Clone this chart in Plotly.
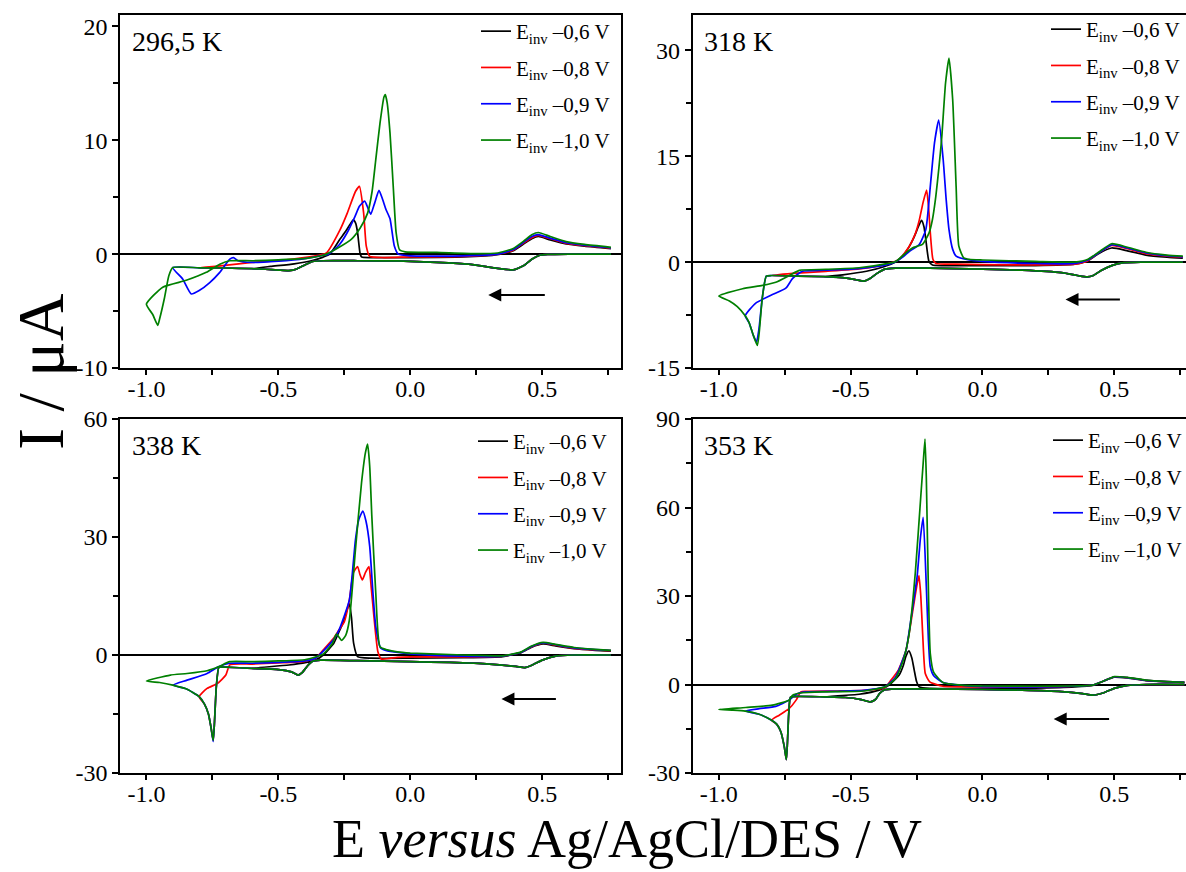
import plotly.graph_objects as go

FONT = "Liberation Serif"

# ---------------- 296,5 K ----------------
E_A_cat = [0.76, 0.6, 0.52, 0.49, 0.46, 0.43, 0.39, 0.33, 0.22, 0.1, -0.05, -0.2, -0.33, -0.37, -0.40, -0.43, -0.46, -0.50, -0.55, -0.6]
I_A_cat = [0.0, 0.0, -0.03, -0.1, -0.45, -1.0, -1.38, -1.25, -0.88, -0.72, -0.6, -0.58, -0.58, -0.65, -0.95, -1.3, -1.45, -1.4, -1.33, -1.28]
E_A_tail_r = [-0.7, -0.8]
I_A_tail_r = [-1.22, -1.2]
E_A_tail_b = [-0.7, -0.8, -0.9]
I_A_tail_b = [-1.22, -1.2, -1.18]
E_A_tail_g = [-0.7, -0.8, -0.9, -0.915, -0.932, -0.95, -0.957, -0.976, -1.0]
I_A_tail_g = [-1.22, -1.2, -1.18, -1.9, -3.9, -5.7, -6.25, -5.3, -4.4]
E_A_an_k = [-0.53, -0.44, -0.375, -0.33, -0.305, -0.267, -0.245, -0.229, -0.216, -0.207, -0.2, -0.19, -0.184, -0.15, 0.0, 0.2, 0.33, 0.39, 0.43, 0.46, 0.485, 0.53, 0.59, 0.66, 0.76]
I_A_an_k = [-1.08, -0.85, -0.58, -0.26, 0.0, 1.3, 2.0, 2.6, 3.0, 2.7, 1.9, 0.0, -0.26, -0.3, -0.3, -0.25, -0.05, 0.3, 0.9, 1.35, 1.55, 1.25, 0.9, 0.7, 0.48]
E_A_an_r = [-0.72, -0.6, -0.47, -0.37, -0.318, -0.267, -0.239, -0.208, -0.193, -0.177, -0.167, -0.154, -0.1, 0.0, 0.2, 0.33, 0.39, 0.43, 0.46, 0.485, 0.53, 0.59, 0.66, 0.76]
I_A_an_r = [-1.03, -0.73, -0.5, -0.2, 0.1, 2.1, 3.6, 5.5, 5.95, 3.6, 0.7, -0.2, -0.3, -0.25, -0.2, 0.0, 0.35, 1.0, 1.45, 1.65, 1.35, 0.95, 0.75, 0.52]
E_A_an_b = [-0.862, -0.83, -0.8, -0.76, -0.722, -0.684, -0.67, -0.653, -0.6, -0.5, -0.4, -0.33, -0.31, -0.27, -0.239, -0.21, -0.193, -0.173, -0.16, -0.15, -0.135, -0.119, -0.105, -0.092, -0.077, -0.061, -0.046, 0.0, 0.2, 0.33, 0.39, 0.43, 0.46, 0.485, 0.53, 0.59, 0.66, 0.76]
I_A_an_b = [-2.2, -3.5, -3.2, -2.5, -1.6, -0.44, -0.3, -0.58, -0.73, -0.62, -0.4, -0.1, 0.0, 0.8, 1.9, 3.3, 4.2, 4.66, 4.0, 3.5, 4.5, 5.6, 4.8, 3.9, 3.1, 0.73, 0.0, -0.15, -0.15, 0.0, 0.4, 1.05, 1.55, 1.72, 1.4, 1.0, 0.78, 0.55]
E_A_an_g = [-0.938, -0.849, -0.773, -0.722, -0.684, -0.596, -0.5, -0.394, -0.33, -0.318, -0.27, -0.224, -0.19, -0.162, -0.145, -0.131, -0.115, -0.1, -0.095, -0.088, -0.077, -0.065, -0.054, -0.041, -0.02, 0.1, 0.25, 0.33, 0.39, 0.43, 0.46, 0.485, 0.53, 0.59, 0.66, 0.76]
I_A_an_g = [-2.9, -2.3, -1.6, -0.88, -0.58, -0.58, -0.5, -0.38, -0.1, 0.0, 0.6, 1.3, 2.3, 3.6, 5.5, 8.3, 11.5, 13.8, 14.0, 13.3, 10.6, 6.0, 1.9, 0.38, 0.2, 0.15, 0.05, 0.1, 0.5, 1.15, 1.7, 1.9, 1.55, 1.1, 0.85, 0.6]

# ---------------- 318 K ----------------
E_B_cat = [0.76, 0.6, 0.53, 0.49, 0.45, 0.42, 0.397, 0.36, 0.3, 0.15, 0.0, -0.2, -0.33, -0.37, -0.40, -0.425, -0.449, -0.48, -0.53, -0.6]
I_B_cat = [0.0, 0.0, -0.1, -0.5, -1.2, -1.9, -2.1, -1.9, -1.5, -1.15, -1.0, -0.85, -0.85, -1.0, -1.6, -2.3, -2.7, -2.5, -2.2, -2.07]
E_B_tail_r = [-0.7, -0.8]
I_B_tail_r = [-1.98, -1.9]
E_B_tail_b = [-0.7, -0.8, -0.82, -0.835, -0.848, -0.857, -0.87, -0.885, -0.9]
I_B_tail_b = [-1.98, -1.9, -2.0, -5.0, -9.5, -11.3, -10.3, -8.6, -7.6]
E_B_tail_g = [-0.7, -0.8, -0.82, -0.835, -0.847, -0.854, -0.87, -0.885, -0.9, -0.93, -0.96, -1.0]
I_B_tail_g = [-1.98, -1.9, -2.0, -5.0, -10.0, -11.8, -10.3, -8.6, -7.6, -6.3, -5.5, -4.8]
E_B_an_k = [-0.53, -0.44, -0.377, -0.33, -0.3, -0.278, -0.26, -0.24, -0.231, -0.222, -0.215, -0.203, -0.19, -0.15, 0.0, 0.2, 0.35, 0.40, 0.44, 0.49, 0.55, 0.62, 0.7, 0.76]
I_B_an_k = [-1.8, -1.3, -0.7, 0.0, 1.0, 2.2, 3.5, 5.3, 5.9, 5.0, 3.2, 0.1, -0.4, -0.5, -0.5, -0.5, -0.3, 0.2, 1.2, 2.0, 1.6, 1.0, 0.7, 0.55]
E_B_an_r = [-0.72, -0.594, -0.468, -0.367, -0.316, -0.278, -0.255, -0.24, -0.225, -0.212, -0.205, -0.198, -0.188, -0.177, -0.1, 0.0, 0.2, 0.35, 0.40, 0.44, 0.49, 0.55, 0.62, 0.7, 0.76]
I_B_an_r = [-1.6, -1.3, -0.96, -0.33, 0.4, 2.2, 4.0, 5.9, 8.5, 10.2, 8.0, 4.2, 0.4, -0.2, -0.3, -0.35, -0.4, -0.3, 0.2, 1.3, 2.35, 1.9, 1.2, 0.85, 0.7]
E_B_an_b = [-0.86, -0.797, -0.746, -0.72, -0.683, -0.6, -0.5, -0.4, -0.342, -0.3, -0.278, -0.24, -0.215, -0.198, -0.182, -0.166, -0.149, -0.138, -0.127, -0.113, -0.1, -0.05, 0.0, 0.2, 0.35, 0.40, 0.44, 0.49, 0.55, 0.62, 0.7, 0.76]
I_B_an_b = [-5.8, -4.6, -3.7, -2.3, -1.3, -1.15, -1.0, -0.6, -0.14, 0.8, 1.5, 2.5, 4.6, 10.7, 16.9, 20.1, 14.5, 9.0, 4.6, 1.8, 0.85, 0.3, 0.1, -0.2, -0.2, 0.3, 1.3, 2.45, 2.0, 1.3, 0.9, 0.75]
E_B_an_g = [-0.91, -0.835, -0.784, -0.733, -0.695, -0.594, -0.468, -0.367, -0.329, -0.29, -0.266, -0.228, -0.203, -0.19, -0.177, -0.165, -0.155, -0.14, -0.127, -0.113, -0.1, -0.09, -0.072, -0.05, 0.0, 0.2, 0.35, 0.40, 0.44, 0.49, 0.55, 0.62, 0.7, 0.76]
I_B_an_g = [-3.77, -3.3, -2.85, -1.9, -1.17, -1.03, -0.8, -0.26, 0.1, 1.3, 2.0, 2.5, 4.1, 6.0, 9.3, 13.5, 17.4, 25.4, 28.9, 23.0, 10.7, 2.3, 0.65, 0.4, 0.3, 0.1, 0.0, 0.4, 1.4, 2.6, 2.1, 1.4, 1.0, 0.85]

# ---------------- 338 K ----------------
E_C_cat = [0.76, 0.62, 0.55, 0.5, 0.46, 0.434, 0.4, 0.3, 0.15, 0.0, -0.2, -0.34, -0.37, -0.39, -0.41, -0.425, -0.45, -0.5, -0.6]
I_C_cat = [0.0, 0.0, -0.3, -1.3, -2.6, -3.2, -2.9, -2.3, -1.9, -1.7, -1.45, -1.3, -1.6, -2.8, -4.5, -5.1, -4.3, -3.7, -3.4]
E_C_tail_r = [-0.7, -0.725, -0.735, -0.742, -0.747, -0.755, -0.765, -0.78, -0.8]
I_C_tail_r = [-3.1, -3.1, -8.0, -17.0, -21.7, -18.5, -15.0, -12.5, -10.6]
E_C_tail_b = [-0.7, -0.725, -0.735, -0.742, -0.747, -0.755, -0.765, -0.78, -0.8, -0.85, -0.9]
I_C_tail_b = [-3.1, -3.1, -8.0, -17.0, -22.0, -18.5, -15.0, -12.5, -10.6, -8.6, -7.65]
E_C_tail_g = [-0.7, -0.725, -0.735, -0.742, -0.747, -0.755, -0.765, -0.78, -0.8, -0.85, -0.9, -0.95, -1.0]
I_C_tail_g = [-3.1, -3.1, -8.0, -17.0, -21.7, -18.5, -15.0, -12.5, -10.6, -8.6, -7.65, -7.0, -6.6]
E_C_an_k = [-0.46, -0.36, -0.33, -0.29, -0.267, -0.25, -0.24, -0.231, -0.223, -0.215, -0.2, -0.15, 0.0, 0.2, 0.35, 0.42, 0.46, 0.503, 0.55, 0.62, 0.7, 0.76]
I_C_an_k = [-2.55, -1.3, 0.0, 3.0, 6.4, 9.0, 11.5, 13.0, 9.5, 3.0, -0.4, -0.8, -0.8, -0.7, -0.4, 0.6, 2.0, 2.8, 2.3, 1.6, 1.2, 1.0]
E_C_an_r = [-0.77, -0.73, -0.699, -0.684, -0.6, -0.5, -0.4, -0.36, -0.33, -0.29, -0.27, -0.25, -0.231, -0.216, -0.2, -0.191, -0.182, -0.17, -0.157, -0.148, -0.138, -0.123, -0.11, -0.05, 0.0, 0.2, 0.35, 0.42, 0.46, 0.503, 0.55, 0.62, 0.7, 0.76]
I_C_an_r = [-8.5, -7.2, -5.1, -2.5, -2.3, -2.0, -1.6, -0.85, 1.3, 4.3, 6.4, 8.5, 14.0, 20.9, 22.5, 20.5, 19.1, 21.0, 22.5, 17.0, 9.8, 0.85, -1.0, -0.6, -0.5, -0.5, -0.3, 0.7, 2.1, 3.0, 2.5, 1.7, 1.3, 1.1]
E_C_an_b = [-0.846, -0.77, -0.727, -0.684, -0.6, -0.5, -0.4, -0.36, -0.33, -0.29, -0.27, -0.231, -0.208, -0.195, -0.18, -0.168, -0.154, -0.142, -0.131, -0.112, -0.09, -0.069, 0.0, 0.2, 0.35, 0.42, 0.46, 0.503, 0.55, 0.62, 0.7, 0.76]
I_C_an_b = [-6.4, -4.7, -3.0, -2.1, -2.1, -1.9, -1.5, -0.8, 1.0, 4.0, 6.4, 14.0, 29.3, 34.5, 36.6, 34.0, 27.6, 16.0, 7.2, 1.7, 1.1, 0.85, 0.3, -0.3, -0.3, 0.7, 2.2, 3.1, 2.6, 1.8, 1.35, 1.15]
E_C_an_g = [-0.909, -0.846, -0.77, -0.727, -0.684, -0.6, -0.5, -0.4, -0.36, -0.33, -0.295, -0.28, -0.26, -0.245, -0.231, -0.208, -0.185, -0.17, -0.162, -0.154, -0.146, -0.131, -0.115, -0.087, -0.05, 0.0, 0.2, 0.35, 0.42, 0.46, 0.503, 0.55, 0.62, 0.7, 0.76]
I_C_an_g = [-5.1, -4.7, -4.0, -3.0, -1.7, -1.7, -1.5, -1.2, -0.5, 0.26, 3.0, 5.3, 3.7, 5.0, 8.9, 26.8, 43.8, 51.5, 53.6, 48.0, 35.3, 15.7, 2.1, 1.3, 0.8, 0.5, 0.0, -0.2, 0.8, 2.3, 3.2, 2.7, 1.9, 1.45, 1.2]

# ---------------- 353 K ----------------
E_D_cat = [0.766, 0.62, 0.55, 0.5, 0.46, 0.418, 0.38, 0.3, 0.15, 0.0, -0.2, -0.33, -0.37, -0.39, -0.405, -0.425, -0.46, -0.52, -0.6]
I_D_cat = [0.0, 0.0, -0.3, -1.3, -2.8, -3.6, -3.1, -2.4, -1.9, -1.7, -1.5, -1.5, -1.8, -3.0, -5.0, -5.9, -5.1, -4.4, -4.2]
E_D_tail_r = [-0.7, -0.728, -0.735, -0.74, -0.744, -0.752, -0.765, -0.78, -0.8]
I_D_tail_r = [-4.0, -4.3, -10.0, -20.0, -25.5, -21.0, -16.0, -13.5, -12.1]
E_D_tail_b = [-0.7, -0.728, -0.735, -0.74, -0.744, -0.752, -0.765, -0.78, -0.8, -0.85, -0.9]
I_D_tail_b = [-4.0, -4.3, -10.0, -20.0, -25.5, -21.0, -16.0, -13.5, -12.1, -10.0, -9.0]
E_D_tail_g = [-0.7, -0.728, -0.735, -0.74, -0.744, -0.752, -0.765, -0.78, -0.8, -0.85, -0.9, -0.95, -1.0]
I_D_tail_g = [-4.0, -4.3, -10.0, -20.0, -25.5, -21.0, -16.0, -13.5, -12.1, -10.0, -9.0, -8.7, -8.5]
E_D_an_k = [-0.468, -0.392, -0.354, -0.316, -0.3, -0.291, -0.279, -0.268, -0.259, -0.25, -0.24, -0.2, 0.0, 0.2, 0.35, 0.418, 0.46, 0.5, 0.55, 0.62, 0.7, 0.766]
I_D_an_k = [-3.3, -1.9, -0.2, 3.2, 6.5, 9.4, 11.4, 9.0, 4.9, 1.0, -0.8, -1.3, -1.3, -1.2, -0.8, -0.3, 1.2, 2.5, 2.2, 1.3, 0.9, 0.7]
E_D_an_r = [-0.771, -0.734, -0.707, -0.689, -0.67, -0.55, -0.45, -0.37, -0.347, -0.319, -0.29, -0.262, -0.25, -0.241, -0.234, -0.227, -0.217, -0.2, -0.15, 0.0, 0.2, 0.35, 0.418, 0.46, 0.5, 0.55, 0.62, 0.7, 0.766]
I_D_an_r = [-10.4, -8.2, -5.3, -2.5, -2.3, -2.2, -2.0, -1.0, 1.5, 4.9, 11.6, 26.4, 33.0, 36.9, 30.0, 17.3, 3.7, 0.9, -0.6, -0.8, -0.8, -0.6, -0.2, 1.2, 2.6, 2.3, 1.4, 0.95, 0.7]
E_D_an_b = [-0.847, -0.784, -0.734, -0.707, -0.68, -0.55, -0.45, -0.37, -0.33, -0.29, -0.27, -0.248, -0.235, -0.225, -0.213, -0.205, -0.198, -0.185, -0.15, -0.05, 0.0, 0.2, 0.35, 0.418, 0.46, 0.5, 0.55, 0.62, 0.7, 0.766]
I_D_an_b = [-8.2, -7.4, -5.3, -3.3, -2.6, -2.3, -2.0, -0.8, 2.5, 11.6, 23.0, 36.6, 50.0, 56.7, 33.2, 15.0, 6.0, 3.0, 0.7, -0.5, -0.7, -0.8, -0.6, -0.2, 1.2, 2.6, 2.3, 1.4, 0.95, 0.7]
E_D_an_g = [-0.898, -0.797, -0.734, -0.72, -0.683, -0.594, -0.45, -0.37, -0.33, -0.3, -0.278, -0.255, -0.234, -0.225, -0.218, -0.213, -0.208, -0.198, -0.185, -0.15, -0.05, 0.0, 0.2, 0.35, 0.418, 0.46, 0.5, 0.55, 0.62, 0.7, 0.766]
I_D_an_g = [-7.8, -7.0, -5.3, -3.6, -2.8, -2.5, -2.2, -0.8, 2.0, 8.3, 17.3, 37.7, 63.8, 75.0, 83.2, 70.0, 45.6, 10.5, 4.1, 0.7, -0.4, -0.5, -0.6, -0.5, -0.2, 1.2, 2.7, 2.4, 1.5, 1.0, 0.75]

# ---------------- labels / ticks ----------------
series_names = ["E<sub>inv</sub> \u20130,6 V", "E<sub>inv</sub> \u20130,8 V",
                "E<sub>inv</sub> \u20130,9 V", "E<sub>inv</sub> \u20131,0 V"]
series_colors = ["#000000", "#ff0000", "#0000ff", "#008000"]
panel_titles = ["296,5 K", "318 K", "338 K", "353 K"]
x_tickvals = [-1.0, -0.5, 0.0, 0.5]
x_ticktext = ["-1.0", "-0.5", "0.0", "0.5"]
x_minor = [-0.75, -0.25, 0.25, 0.75]
yA_tickvals = [-10, 0, 10, 20]
yB_tickvals = [-15, 0, 15, 30]
yC_tickvals = [-30, 0, 30, 60]
yD_tickvals = [-30, 0, 30, 60, 90]
yA_minor = [-5, 5, 15]
yB_minor = [-7.5, 7.5, 22.5]
yC_minor = [-15, 15, 45]
yD_minor = [-15, 15, 45, 75]

panels = [
    dict(key="A", xa="x", ya="y", leg="legend",
         E=[E_A_cat + E_A_an_k, E_A_cat + E_A_tail_r + E_A_an_r, E_A_cat + E_A_tail_b + E_A_an_b, E_A_cat + E_A_tail_g + E_A_an_g],
         I=[I_A_cat + I_A_an_k, I_A_cat + I_A_tail_r + I_A_an_r, I_A_cat + I_A_tail_b + I_A_an_b, I_A_cat + I_A_tail_g + I_A_an_g]),
    dict(key="B", xa="x2", ya="y2", leg="legend2",
         E=[E_B_cat + E_B_an_k, E_B_cat + E_B_tail_r + E_B_an_r, E_B_cat + E_B_tail_b + E_B_an_b, E_B_cat + E_B_tail_g + E_B_an_g],
         I=[I_B_cat + I_B_an_k, I_B_cat + I_B_tail_r + I_B_an_r, I_B_cat + I_B_tail_b + I_B_an_b, I_B_cat + I_B_tail_g + I_B_an_g]),
    dict(key="C", xa="x3", ya="y3", leg="legend3",
         E=[E_C_cat + E_C_an_k, E_C_cat + E_C_tail_r + E_C_an_r, E_C_cat + E_C_tail_b + E_C_an_b, E_C_cat + E_C_tail_g + E_C_an_g],
         I=[I_C_cat + I_C_an_k, I_C_cat + I_C_tail_r + I_C_an_r, I_C_cat + I_C_tail_b + I_C_an_b, I_C_cat + I_C_tail_g + I_C_an_g]),
    dict(key="D", xa="x4", ya="y4", leg="legend4",
         E=[E_D_cat + E_D_an_k, E_D_cat + E_D_tail_r + E_D_an_r, E_D_cat + E_D_tail_b + E_D_an_b, E_D_cat + E_D_tail_g + E_D_an_g],
         I=[I_D_cat + I_D_an_k, I_D_cat + I_D_tail_r + I_D_an_r, I_D_cat + I_D_tail_b + I_D_an_b, I_D_cat + I_D_tail_g + I_D_an_g]),
]

fig = go.Figure()
for p in panels:
    for k in range(4):
        fig.add_trace(go.Scatter(
            x=p["E"][k], y=p["I"][k], mode="lines",
            line=dict(color=series_colors[k], width=1.7, shape="spline", smoothing=0.5),
            name=series_names[k], xaxis=p["xa"], yaxis=p["ya"], legend=p["leg"],
            legendgroup=p["key"] + str(k),
        ))

W, H = 1186, 872
xL = [120 / W, 621 / W]
xR = [692.5 / W, 1.0]
yT = [1 - 368 / H, 1 - 15 / H]
yB = [1 - 773 / H, 1 - 419 / H]

tickfont = dict(family=FONT, size=24, color="black")


def xaxis(domain, rng, anchor):
    return dict(domain=domain, range=rng, anchor=anchor, automargin=False, showline=True,
                linecolor="black", linewidth=1.5, mirror=True, ticks="outside", ticklen=5,
                tickwidth=1.5, tickcolor="black", tickmode="array", tickvals=x_tickvals,
                ticktext=x_ticktext, ticklabelstandoff=-7,
                minor=dict(ticks="outside", ticklen=5, tickwidth=1.5, tickcolor="black",
                           tickmode="array", tickvals=x_minor, showgrid=False),
                showgrid=False, zeroline=False, tickfont=tickfont)


def yaxis(domain, rng, anchor, tv, mn, mirror):
    return dict(domain=domain, range=rng, anchor=anchor, automargin=False, showline=True,
                linecolor="black", linewidth=1.5, mirror=mirror, ticks="outside", ticklen=6,
                tickwidth=1.5, tickcolor="black", tickmode="array", tickvals=tv,
                ticktext=[str(v) for v in tv],
                minor=dict(ticks="outside", ticklen=5, tickwidth=1.5, tickcolor="black",
                           tickmode="array", tickvals=mn, showgrid=False),
                showgrid=False, zeroline=True, zerolinecolor="black", zerolinewidth=2,
                tickfont=tickfont)


def legend(x_px, y_px):
    return dict(x=x_px / W, y=1 - y_px / H, xanchor="left", yanchor="top",
                bgcolor="rgba(0,0,0,0)", borderwidth=0, traceorder="grouped",
                tracegroupgap=6, font=dict(family=FONT, size=21, color="black"))


fig.update_layout(
    width=W, height=H, margin=dict(l=0, r=0, t=0, b=0, autoexpand=False),
    plot_bgcolor="white", paper_bgcolor="white", showlegend=True,
    xaxis=xaxis(xL, [-1.1, 0.798], "y"),
    yaxis=yaxis(yT, [-10, 21], "x", yA_tickvals, yA_minor, True),
    xaxis2=xaxis(xR, [-1.1, 0.772], "y2"),
    yaxis2=yaxis(yT, [-15, 35], "x2", yB_tickvals, yB_minor, False),
    xaxis3=xaxis(xL, [-1.1, 0.798], "y3"),
    yaxis3=yaxis(yB, [-30, 60], "x3", yC_tickvals, yC_minor, True),
    xaxis4=xaxis(xR, [-1.1, 0.772], "y4"),
    yaxis4=yaxis(yB, [-30, 90], "x4", yD_tickvals, yD_minor, False),
    legend=legend(476, 11),
    legend2=legend(1046, 9),
    legend3=legend(473, 421),
    legend4=legend(1048, 420),
)

# panel temperature labels
for p, title in zip(panels, panel_titles):
    fig.add_annotation(text=title, xref=p["xa"] + " domain", yref=p["ya"] + " domain",
                       x=0.02, y=0.925, xanchor="left", yanchor="middle", showarrow=False,
                       font=dict(family=FONT, size=28, color="black"))

# scan direction arrows (tip, tail)
arrow_tip_x = [0.295, 0.315, 0.345, 0.27]
arrow_tail_x = [0.515, 0.527, 0.557, 0.486]
arrow_y = [-3.6, -5.3, -11.2, -11.7]
for p, xt, xs, ya in zip(panels, arrow_tip_x, arrow_tail_x, arrow_y):
    fig.add_annotation(x=xt, y=ya, ax=xs, ay=ya, xref=p["xa"], yref=p["ya"],
                       axref=p["xa"], ayref=p["ya"], text="", showarrow=True,
                       arrowhead=2, arrowsize=1.3, arrowwidth=2, arrowcolor="black")

# axis titles
fig.add_annotation(text="I / \u03bcA", xref="paper", yref="paper", x=40 / W, y=1 - 372 / H,
                   textangle=-90, showarrow=False, xanchor="center", yanchor="middle",
                   font=dict(family=FONT, size=66, color="black"))
fig.add_annotation(text="E <i>versus</i> Ag/AgCl/DES / V", xref="paper", yref="paper",
                   x=627 / W, y=1 - 839 / H, showarrow=False, xanchor="center", yanchor="middle",
                   font=dict(family=FONT, size=54, color="black"))

fig.write_html("out.html", config={"displayModeBar": False})
